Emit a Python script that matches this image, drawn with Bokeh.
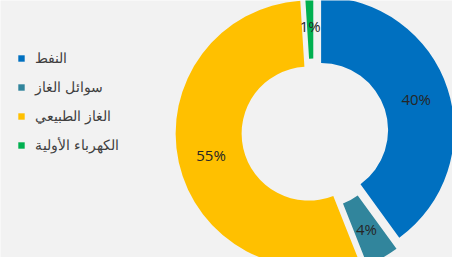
import numpy as np
from bokeh.plotting import figure
from bokeh.models import ColumnDataSource, Range1d, Legend, LegendItem
from bokeh.embed import file_html
from bokeh.resources import INLINE
from bokeh.core.properties import value

# ---- data ----
categories = ["النفط", "سوائل الغاز", "الغاز الطبيعي", "الكهرباء الأولية"]
shares = [40, 4, 55, 1]

# ---- style ----
colors = ["#0070C0", "#31859C", "#FFC000", "#00B050"]
explode = [8, 10, 5, 7]
W, H = 452, 257
CX, CY = 313, 125
R_OUT, R_IN = 133, 67
BG = "#f2f2f2"

vals = np.array(shares, dtype=float)
frac = vals / vals.sum()
cum_end = np.cumsum(frac)
cum_start = cum_end - frac
start = np.pi / 2 - 2 * np.pi * cum_end
end = np.pi / 2 - 2 * np.pi * cum_start
mid = (start + end) / 2
ex = np.array(explode, dtype=float)
lr = ex + (R_OUT + R_IN) / 2

src = ColumnDataSource(dict(
    x=ex * np.cos(mid), y=ex * np.sin(mid),
    start=start, end=end, color=colors,
    lx=lr * np.cos(mid), ly=lr * np.sin(mid),
    label=[f"{s}%" for s in shares],
))

p = figure(width=W, height=H, output_backend="svg", toolbar_location=None,
           x_range=Range1d(-CX, W - CX), y_range=Range1d(-CY, H - CY),
           min_border=0)
p.axis.visible = False
p.grid.visible = False
p.outline_line_color = None
p.background_fill_color = BG
p.border_fill_color = BG

wr = p.annular_wedge(x="x", y="y", inner_radius=R_IN, outer_radius=R_OUT,
                     start_angle="start", end_angle="end", direction="anticlock",
                     fill_color="color", line_color=None, source=src)

p.text(x="lx", y="ly", text="label", source=src, text_align="center",
       text_baseline="middle", text_font=value("Open Sans"),
       text_font_size="15px", text_color="#262626")

items = [LegendItem(label=c, renderers=[wr], index=i) for i, c in enumerate(categories)]
legend = Legend(items=items, location=(17, 98), orientation="vertical",
                glyph_width=8, glyph_height=8, label_standoff=10,
                label_height=29, spacing=0, padding=0, margin=0,
                label_text_font="Noto Sans", label_text_font_size="14px",
                label_text_color="#404040",
                border_line_color=None, background_fill_alpha=0)
p.add_layout(legend, "center")

open("out.html", "w").write(file_html(p, INLINE))
